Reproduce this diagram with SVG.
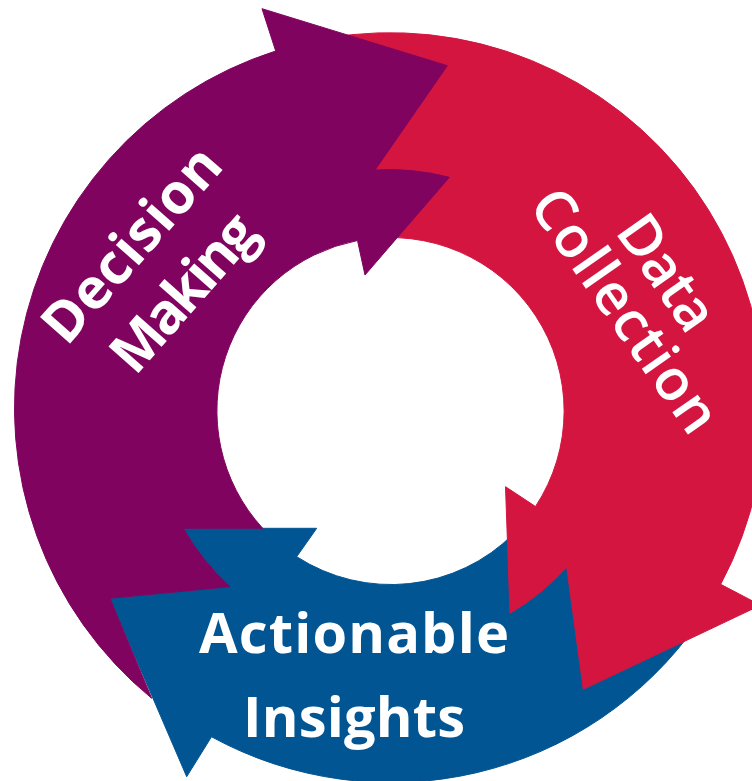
<svg xmlns="http://www.w3.org/2000/svg" width="752" height="781" viewBox="0 0 752 781">
  <style>
    .arrow { stroke-width: 1; stroke-linejoin: round; }
    .purple { fill: #80035F; stroke: #80035F; }
    .red { fill: #D31540; stroke: #D31540; }
    .blue { fill: #025593; stroke: #025593; }
    .label { font-family: "Open Sans", "Liberation Sans", sans-serif; font-weight: 700; font-size: 56px; fill: #FFFFFF; text-anchor: middle; }
    .label.semi { font-weight: 600; font-size: 57px; }
  </style>
  <rect width="752" height="781" fill="#FFFFFF"/>

  <!-- Ring centre ~ (391, 407.5); outer radius 375, inner radius 173.5 -->

  <!-- Bottom arrow: tail hidden under the red head -->
  <g id="actionable-insights">
    <path class="arrow blue" d="M 698.2 622.6 A 375 375 0 0 1 211.5 736.8 L 186.7 776.7 L 110 598.3 L 230 586.7 A 240 240 0 0 1 183.3 528.3 L 316.7 528.3 L 296.7 556.7 A 173.5 173.5 0 0 0 513.7 533.7 Z"/>
    <text class="label" x="354" y="653" textLength="310">Actionable</text>
    <text class="label" x="354" y="737" textLength="222">Insights</text>
  </g>

  <!-- Right arrow: tail hidden under the purple head -->
  <g id="data-collection">
    <path class="arrow red" d="M 325.9 38.2 A 375 375 0 0 1 720.7 584.3 L 760.6 605.2 L 583.3 689.3 L 566.7 567.3 A 238 238 0 0 1 510 613.3 L 505.5 486.7 L 535.5 506.5 A 173.5 173.5 0 0 0 360.9 240.1 Z"/>
    <g transform="translate(651 284) rotate(55)">
      <text class="label semi" x="0" y="0" textLength="128">Data</text>
      <text class="label semi" x="7" y="56" textLength="284">Collection</text>
    </g>
  </g>

  <!-- Left arrow: tail cut to fit the notched front of the blue head -->
  <g id="decision-making">
    <path class="arrow purple" d="M 151.7 698.3 A 375 375 0 0 1 275.7 51 L 262 8.7 L 447.3 65.7 L 375 170 A 238 238 0 0 1 449.3 177.3 L 365 275 L 357.5 240.5 A 173.5 173.5 0 0 0 262.7 528.3 L 183.3 528.3 A 240 240 0 0 0 230 586.7 L 110 598.3 Z"/>
    <g transform="translate(146 257) rotate(-48.7)">
      <text class="label" x="0" y="0" textLength="240">Decision</text>
      <text class="label" x="-2" y="71" textLength="190">Making</text>
    </g>
  </g>
</svg>
